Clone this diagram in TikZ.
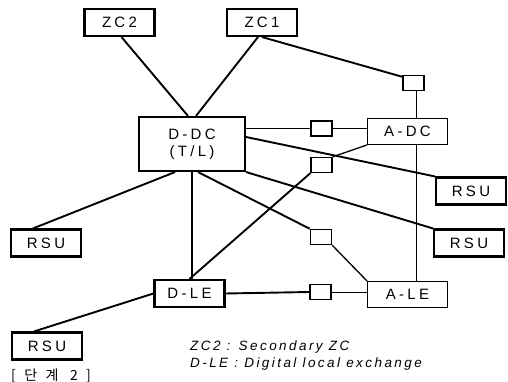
\documentclass[tikz,border=0pt]{standalone}
\usepackage{fontspec}
\setmainfont{Liberation Sans}[LetterSpace=22]
\newfontfamily\legendfont{Liberation Sans}[LetterSpace=18]
\newfontfamily\korfont{Noto Sans CJK KR}[LetterSpace=60]
\begin{document}
\begin{tikzpicture}[x=1pt,y=-1pt,font=\fontsize{15}{17}\selectfont]
  \useasboundingbox (0,0) rectangle (508,382);
  % digital exchanges
  \begin{scope}[every node/.style={rectangle,draw,line width=2.1pt,inner sep=0pt,minimum width=70pt,minimum height=27pt}]
    \node (zc2) at (119.5,22.5) {ZC2};
    \node (zc1) at (262,22.5) {ZC1};
    \node[minimum width=106pt,minimum height=54pt,align=center] (ddc) at (192,144) {D-DC\\(T/L)};
    \node (dle) at (189.5,293.5) {D-LE};
    \node (rsur1) at (471,191) {RSU};
    \node (rsul) at (46,243) {RSU};
    \node (rsur2) at (469,243) {RSU};
    \node (rsub) at (47,346) {RSU};
  \end{scope}
  % analog exchanges
  \begin{scope}[every node/.style={rectangle,draw,line width=0.9pt,inner sep=0pt,minimum width=80pt,minimum height=26pt}]
    \node (adc) at (407.5,131.5) {A-DC};
    \node (ale) at (407.5,294.5) {A-LE};
  \end{scope}
  % converters
  \begin{scope}[every node/.style={rectangle,draw,line width=1.4pt,inner sep=0pt,minimum width=21pt,minimum height=15pt}]
    \node (sqz) at (413.5,83) {};
    \node (sq1) at (321.5,128.5) {};
    \node (sq2) at (321.5,165) {};
    \node (sq3) at (321,237) {};
    \node (sq4) at (320.5,292) {};
  \end{scope}
  \begin{scope}[every edge/.style={draw=black,line width=1.9pt}]
    \path ([xshift=2pt]zc2.south) edge ([xshift=-4pt]ddc.north);
    \path ([xshift=-4pt]zc1.south) edge ([xshift=4pt]ddc.north);
    \path (zc1.south) edge ([yshift=-2pt]sqz.north west);
    \path (sq1.west -| ddc.east) edge (sq1.west);
    \path ([yshift=7pt]ddc.east) edge (rsur1.north west);
    \path (sq2.south west) edge (dle.north);
    \path (ddc.south) edge (ddc.south |- dle.north);
    \path ([xshift=-17pt]ddc.south) edge ([xshift=-13pt]rsul.north);
    \path ([xshift=6pt]ddc.south) edge (sq3.north west);
    \path (ddc.south east) edge (rsur2.north west);
    \path (dle.east) edge (sq4.west);
    \path (dle.west) edge ([xshift=-13pt]rsub.north);
  \end{scope}
  \begin{scope}[every edge/.style={draw=black,line width=1.3pt}]
    \path ([xshift=3pt]sqz.south) edge ([xshift=9pt]adc.north);
    \path (adc.south west) edge (sq2.north east);
    \path ([xshift=9pt]adc.south) edge ([xshift=9pt]ale.north);
    \path (sq3.south east) edge (ale.north west);
  \end{scope}
  \begin{scope}[every edge/.style={draw=black,line width=0.9pt}]
    \path (sq1.east) edge (sq1.east -| adc.west);
    \path (sq4.east) edge (sq4.east -| ale.west);
  \end{scope}
  % legend
  \begin{scope}[every node/.style={anchor=base west,inner sep=0pt,font=\fontsize{13.5}{15}\legendfont\itshape}]
    \node (lgzc) at (190,350) {ZC2 : Secondary ZC};
    \node (lgle) at (190,367) {D-LE : Digital local exchange};
  \end{scope}
  \node[anchor=base west,inner sep=0pt,font=\fontsize{14}{16}\korfont] (cap) at (11,380.5) {[단계 2]};
\end{tikzpicture}
\end{document}
